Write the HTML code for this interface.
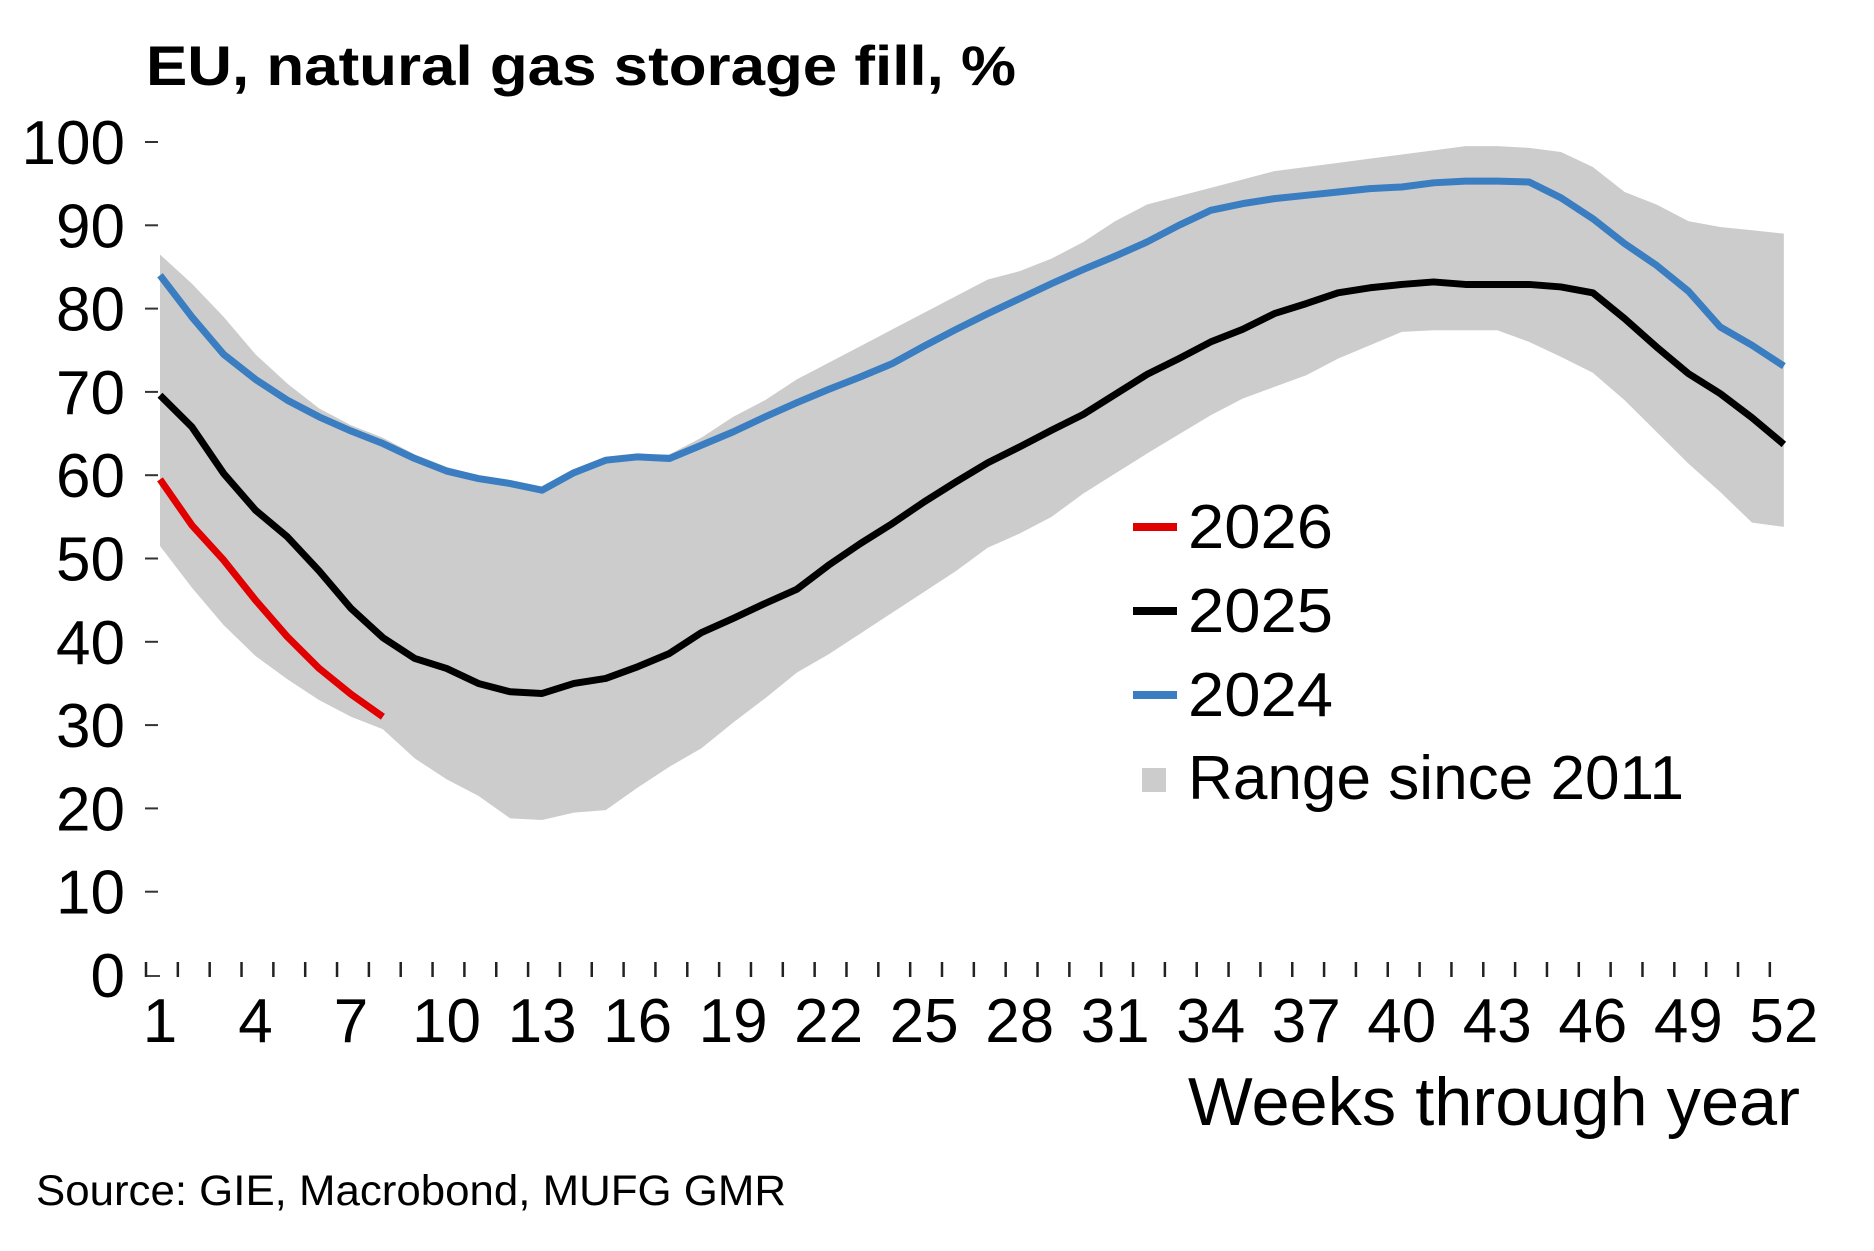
<!DOCTYPE html>
<html><head><meta charset="utf-8"><style>
html,body{margin:0;padding:0;background:#fff;}
svg{display:block;}
text{font-family:"Liberation Sans",Arial,sans-serif;fill:#000;}
</style></head><body>
<svg width="1874" height="1251" viewBox="0 0 1874 1251" xmlns="http://www.w3.org/2000/svg">
<rect width="1874" height="1251" fill="#fff"/>
<text x="146" y="85" font-size="56" font-weight="bold" textLength="870" lengthAdjust="spacingAndGlyphs">EU, natural gas storage fill, %</text>
<g id="band"></g>
<g id="axes"></g>
<g id="lines"></g>
<g font-size="62">
<line x1="1133" y1="527" x2="1177" y2="527" stroke="#e00000" stroke-width="8"/>
<text x="1188" y="548" textLength="145" lengthAdjust="spacingAndGlyphs">2026</text>
<line x1="1133" y1="611" x2="1177" y2="611" stroke="#000" stroke-width="8"/>
<text x="1188" y="632" textLength="145" lengthAdjust="spacingAndGlyphs">2025</text>
<line x1="1133" y1="695" x2="1177" y2="695" stroke="#3a7dc0" stroke-width="8"/>
<text x="1188" y="716" textLength="145" lengthAdjust="spacingAndGlyphs">2024</text>
<rect x="1142" y="768" width="24" height="24" fill="#cccccc"/>
<text x="1188" y="799" textLength="496" lengthAdjust="spacingAndGlyphs">Range since 2011</text>
</g>
<text x="1188" y="1125" font-size="68" textLength="612" lengthAdjust="spacingAndGlyphs">Weeks through year</text>
<text x="36" y="1205" font-size="43" textLength="750" lengthAdjust="spacingAndGlyphs">Source: GIE, Macrobond, MUFG GMR</text>
</svg>
<script>
var y24=[84,79,74.5,71.5,69,67,65.3,63.8,62,60.5,59.6,59,58.2,60.3,61.8,62.2,62,63.6,65.2,67,68.7,70.3,71.8,73.4,75.5,77.5,79.4,81.2,83,84.7,86.3,88,90,91.8,92.6,93.2,93.6,94,94.4,94.6,95.1,95.3,95.3,95.2,93.3,90.8,87.8,85.2,82.1,77.8,75.6,73.1];
var y25=[69.6,65.8,60.2,55.8,52.6,48.5,44,40.5,38,36.8,35,34,33.8,35,35.6,37,38.6,41.1,42.8,44.6,46.3,49.2,51.8,54.2,56.8,59.2,61.5,63.4,65.4,67.3,69.7,72.1,74,76,77.5,79.4,80.6,81.9,82.5,82.9,83.2,82.9,82.9,82.9,82.6,81.9,78.8,75.4,72.2,69.8,66.9,63.7];
var y26=[59.5,54,49.8,45,40.6,36.8,33.7,31];
var up=[86.5,83,79,74.5,71,68,66,64.5,62.5,61,60,59,58.5,60.5,62,62.5,62.5,64.5,67,69,71.5,73.5,75.5,77.5,79.5,81.5,83.5,84.5,86,88,90.5,92.5,93.5,94.5,95.5,96.5,97,97.5,98,98.5,99,99.5,99.5,99.3,98.8,97,94,92.5,90.5,89.8,89.4,89];
var lo=[51.5,46.5,42,38.3,35.5,33,31,29.5,26,23.5,21.5,18.8,18.6,19.5,19.8,22.5,25,27.2,30.3,33.2,36.3,38.5,41,43.5,46,48.5,51.3,53,55,57.8,60.2,62.6,64.9,67.2,69.2,70.6,72,74,75.6,77.2,77.4,77.4,77.4,76,74.2,72.3,69,65.2,61.4,58,54.3,53.8];
function X(w){return 160+(w-1)*31.84;}
function Y(v){return 975-v*8.33;}
var ns="http://www.w3.org/2000/svg";
function el(p,t,a,txt){var e=document.createElementNS(ns,t);for(var k in a)e.setAttribute(k,a[k]);if(txt!=null)e.textContent=txt;document.getElementById(p).appendChild(e);}
var d="";up.forEach(function(v,i){d+=(i?"L":"M")+X(i+1)+","+Y(v);});
for(var i=lo.length-1;i>=0;i--)d+="L"+X(i+1)+","+Y(lo[i]);
el("band","path",{d:d+"Z",fill:"#cccccc"});
function line(a,c){var s="";a.forEach(function(v,i){s+=(i?"L":"M")+X(i+1)+","+Y(v);});el("lines","path",{d:s,fill:"none",stroke:c,"stroke-width":7,"stroke-linejoin":"round"});}
line(y24,"#3a7dc0");line(y25,"#000");line(y26,"#e00000");
for(var v=0;v<=100;v+=10){var yy=Y(v);if(v>0)el("axes","line",{x1:145,y1:yy,x2:158,y2:yy,stroke:"#333","stroke-width":2});
el("axes","text",{x:125,y:yy+22,"font-size":62,"text-anchor":"end"},String(v));}
el("axes","line",{x1:146,y1:976,x2:160,y2:976,stroke:"#444","stroke-width":2});
for(var k=0;k<=51;k++){var xx=146+k*31.84;el("axes","line",{x1:xx,y1:962,x2:xx,y2:977,stroke:"#222","stroke-width":2.5});}
for(var w=1;w<=52;w+=3){el("axes","text",{x:X(w),y:1042,"font-size":62,"text-anchor":"middle"},String(w));}
</script>
</body></html>
